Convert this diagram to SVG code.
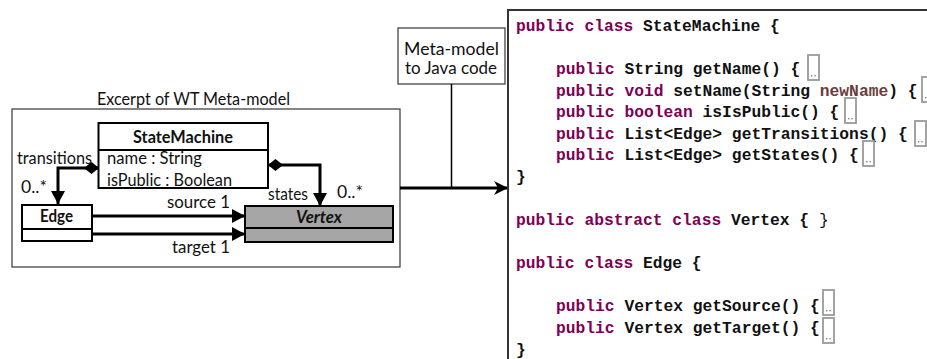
<svg xmlns="http://www.w3.org/2000/svg" xmlns:xlink="http://www.w3.org/1999/xlink" width="927" height="359" viewBox="0 0 927 359">
<style>
.lbl{font-family:Lato,"Open Sans","Liberation Sans",sans-serif;font-size:16.6px;fill:#111}
.b{font-weight:bold}
.bi{font-weight:bold;font-style:italic}
.cls{fill:#fff;stroke:#000;stroke-width:2}
.conn{fill:none;stroke:#000;stroke-width:3}
.code{font-family:"Liberation Mono","DejaVu Sans Mono",monospace;font-size:16.3px;font-weight:bold;fill:#111}
.kw{fill:#7f0055}
.par{fill:#6a3e3e}
</style>
<defs>
<marker id="tri" markerUnits="userSpaceOnUse" markerWidth="14" markerHeight="14" refX="13" refY="7" orient="auto" viewBox="0 0 14 14">
<path d="M0,0 L13,7 L0,14 z" fill="#000"/>
</marker>
<marker id="dia" markerUnits="userSpaceOnUse" markerWidth="16" markerHeight="13" refX="0" refY="6.5" orient="auto" viewBox="0 0 16 13">
<path d="M0,6.5 L7.5,0.5 L15,6.5 L7.5,12.5 z" fill="#000"/>
</marker>
<marker id="stealth" markerUnits="userSpaceOnUse" markerWidth="16" markerHeight="16" refX="14" refY="8" orient="auto" viewBox="0 0 16 16">
<path d="M0,1 L14,8 L0,15 L4,8 z" fill="#000"/>
</marker>
<g id="fold">
<rect x="0" y="0" width="11" height="25" fill="#fff" stroke="#9a9a9a" stroke-width="1.8"/>
<rect x="3" y="20" width="1.4" height="1.4" fill="#888"/>
<rect x="6.4" y="20" width="1.4" height="1.4" fill="#888"/>
</g>
</defs>
<rect width="927" height="359" fill="#fff"/>

<g id="metamodel-frame">
<text class="lbl" x="97" y="105" textLength="193" lengthAdjust="spacingAndGlyphs">Excerpt of WT Meta-model</text>
<rect x="12" y="109" width="388" height="158" fill="none" stroke="#444" stroke-width="1.3"/>
</g>

<g id="StateMachine">
<rect class="cls" x="98.5" y="123" width="169.5" height="65"/>
<line x1="98.5" y1="150" x2="268" y2="150" stroke="#000" stroke-width="2"/>
<text class="lbl b" x="133" y="143" textLength="100" lengthAdjust="spacingAndGlyphs">StateMachine</text>
<text class="lbl" x="107" y="164" textLength="95" lengthAdjust="spacingAndGlyphs">name : String</text>
<text class="lbl" x="107" y="186" textLength="125" lengthAdjust="spacingAndGlyphs">isPublic : Boolean</text>
</g>

<g id="Edge">
<rect class="cls" x="22" y="205" width="70" height="36"/>
<line x1="22" y1="229" x2="92" y2="229" stroke="#000" stroke-width="2"/>
<text class="lbl b" x="40" y="222" textLength="33" lengthAdjust="spacingAndGlyphs">Edge</text>
</g>

<g id="Vertex">
<rect x="245" y="206" width="148" height="36" fill="#a6a6a6" stroke="#000" stroke-width="2"/>
<line x1="245" y1="228" x2="393" y2="228" stroke="#000" stroke-width="2"/>
<text class="lbl bi" x="296" y="223" textLength="46" lengthAdjust="spacingAndGlyphs">Vertex</text>
</g>

<g id="MetaToJava">
<rect x="398" y="28" width="107" height="56" fill="#fff" stroke="#444" stroke-width="1.3"/>
<text class="lbl" x="451.5" y="55" font-size="18" text-anchor="middle" textLength="95" lengthAdjust="spacingAndGlyphs">Meta-model</text>
<text class="lbl" x="451" y="74" font-size="18" text-anchor="middle" textLength="92" lengthAdjust="spacingAndGlyphs">to Java code</text>
</g>

<g id="connectors">
<path class="conn" d="M99,168 H58 V204" marker-start="url(#dia)" marker-end="url(#tri)"/>
<path class="conn" d="M268,165 H320 V206" marker-start="url(#dia)" marker-end="url(#tri)"/>
<path class="conn" d="M92,216 H245" marker-end="url(#tri)"/>
<path class="conn" d="M92,234 H245" marker-end="url(#tri)"/>
<path class="conn" d="M400,188 H508" marker-end="url(#stealth)"/>
<line x1="451.5" y1="84" x2="451.5" y2="188" stroke="#000" stroke-width="1.5"/>
<text class="lbl" x="17" y="164" textLength="75" lengthAdjust="spacingAndGlyphs">transitions</text>
<text class="lbl" x="21" y="193" textLength="26" lengthAdjust="spacingAndGlyphs">0..*</text>
<text class="lbl" x="268" y="200" textLength="40" lengthAdjust="spacingAndGlyphs">states</text>
<text class="lbl" x="337" y="198" textLength="26" lengthAdjust="spacingAndGlyphs">0..*</text>
<text class="lbl" x="167" y="208" textLength="63" lengthAdjust="spacingAndGlyphs">source 1</text>
<text class="lbl" x="172" y="253" textLength="58" lengthAdjust="spacingAndGlyphs">target 1</text>
</g>

<g id="JavaCode">
<rect x="508" y="10" width="440" height="370" fill="#fff" stroke="#333" stroke-width="2"/>
<text class="code" x="516" y="30.5"><tspan class="kw">public class</tspan> StateMachine {</text>
<text class="code" x="556" y="74"><tspan class="kw">public</tspan> String getName() {</text>
<text class="code" x="556" y="95.5"><tspan class="kw">public void</tspan> setName(String <tspan class="par">newName</tspan>) {</text>
<text class="code" x="556" y="117"><tspan class="kw">public boolean</tspan> isIsPublic() {</text>
<text class="code" x="556" y="138.5"><tspan class="kw">public</tspan> List&lt;Edge&gt; getTransitions() {</text>
<text class="code" x="556" y="160"><tspan class="kw">public</tspan> List&lt;Edge&gt; getStates() {</text>
<text class="code" x="516" y="182">}</text>
<text class="code" x="516" y="225"><tspan class="kw">public abstract class</tspan> Vertex { <tspan font-weight="normal">}</tspan></text>
<text class="code" x="516" y="268"><tspan class="kw">public class</tspan> Edge {</text>
<text class="code" x="556" y="311"><tspan class="kw">public</tspan> Vertex getSource() {</text>
<text class="code" x="556" y="333"><tspan class="kw">public</tspan> Vertex getTarget() {</text>
<text class="code" x="516" y="354.5">}</text>
<use xlink:href="#fold" x="808" y="55"/>
<use xlink:href="#fold" x="922" y="77"/>
<use xlink:href="#fold" x="845" y="98"/>
<use xlink:href="#fold" x="915" y="121"/>
<use xlink:href="#fold" x="863" y="141"/>
<use xlink:href="#fold" x="823" y="290"/>
<use xlink:href="#fold" x="823" y="318"/>
</g>
</svg>
